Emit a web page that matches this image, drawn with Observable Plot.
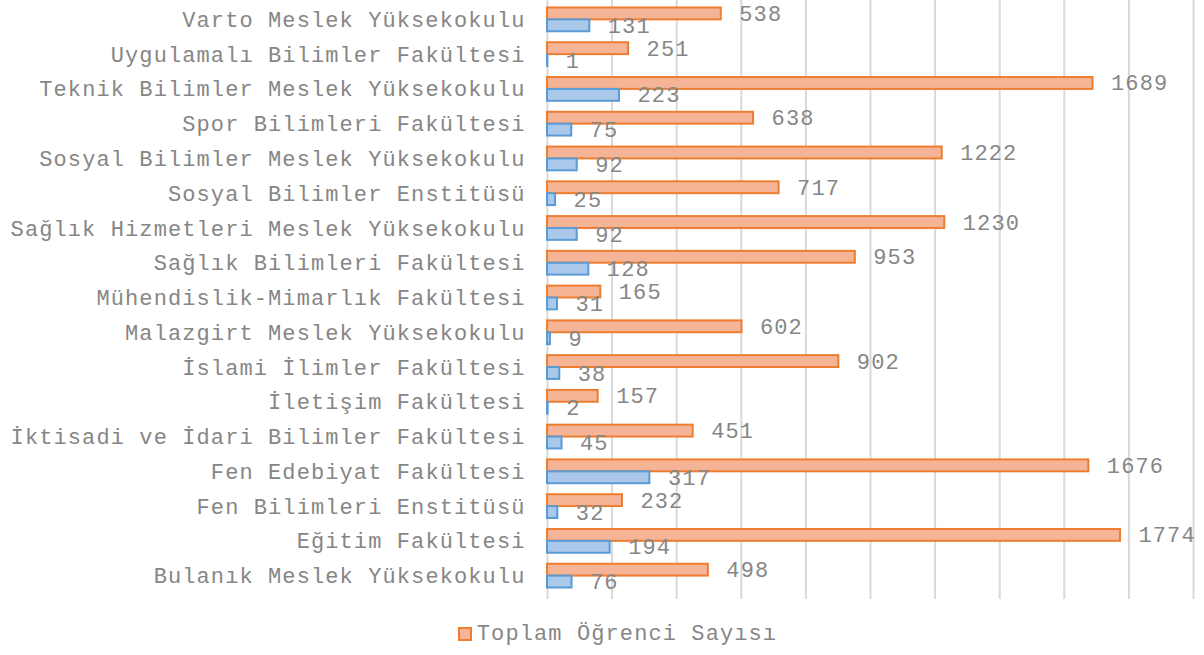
<!DOCTYPE html>
<html>
<head>
<meta charset="utf-8">
<script src="https://cdn.jsdelivr.net/npm/d3@7"></script>
<script src="https://cdn.jsdelivr.net/npm/@observablehq/plot@0.6"></script>
<style>
  html, body { margin: 0; padding: 0; background: #fff; }
  #chart svg { display: block; }
  .legend { display: flex; justify-content: center; align-items: center; height: 46px; padding-left: 31px;
    font-family: "Liberation Mono", monospace; font-size: 22px; letter-spacing: 1.1px; color: #868686; }
  .sw { width: 10px; height: 10px; background: #f5b496; border: 2px solid #ed7d31; margin-right: 5px; }
</style>
</head>
<body>
<div id="chart"></div>
<div class="legend"><span class="sw"></span><span>Toplam Öğrenci Sayısı</span></div>
<script>
const categories = [
  "Varto Meslek Yüksekokulu",
  "Uygulamalı Bilimler Fakültesi",
  "Teknik Bilimler Meslek Yüksekokulu",
  "Spor Bilimleri Fakültesi",
  "Sosyal Bilimler Meslek Yüksekokulu",
  "Sosyal Bilimler Enstitüsü",
  "Sağlık Hizmetleri Meslek Yüksekokulu",
  "Sağlık Bilimleri Fakültesi",
  "Mühendislik-Mimarlık Fakültesi",
  "Malazgirt Meslek Yüksekokulu",
  "İslami İlimler Fakültesi",
  "İletişim Fakültesi",
  "İktisadi ve İdari Bilimler Fakültesi",
  "Fen Edebiyat Fakültesi",
  "Fen Bilimleri Enstitüsü",
  "Eğitim Fakültesi",
  "Bulanık Meslek Yüksekokulu"
];
const toplam = [538, 251, 1689, 638, 1222, 717, 1230, 953, 165, 602, 902, 157, 451, 1676, 232, 1774, 498];
const diger  = [131, 1, 223, 75, 92, 25, 92, 128, 31, 9, 38, 2, 45, 317, 32, 194, 76];
const gridTicks = d3.range(0, 2001, 200);

const dataA = categories.map((c, i) => ({cat: c, v: toplam[i]}));
const dataB = categories.map((c, i) => ({cat: c, v: diger[i]}));

const font = "Liberation Mono, monospace";
const chart = Plot.plot({
  width: 1204,
  height: 611,
  marginLeft: 547,
  marginRight: 11,
  marginTop: 2,
  marginBottom: 18,
  style: {fontFamily: font, fontSize: "22px", color: "#868686", background: "#fff", overflow: "visible"},
  x: {domain: [0, 2000], axis: null},
  y: {domain: categories, padding: 0, round: false, label: null, axis: null},
  marks: [
    Plot.ruleX(gridTicks, {stroke: "#d9d9d9", strokeWidth: 2, insetTop: -2, insetBottom: -6}),
    Plot.barX(dataA, {x: "v", y: "cat", fill: "#f5b496", stroke: "#ed7d31", strokeWidth: 2, insetTop: 5.5, insetBottom: 17.4}),
    Plot.barX(dataB, {x: "v", y: "cat", fill: "#a9c8ea", stroke: "#5b9bd5", strokeWidth: 2, insetTop: 17.4, insetBottom: 5.5}),
    Plot.text(dataA, {x: "v", y: "cat", text: d => String(d.v), dx: 18, dy: -6, textAnchor: "start", fill: "#868686", fontSize: 22, fontFamily: font}),
    Plot.text(dataB, {x: "v", y: "cat", text: d => String(d.v), dx: 18, dy: 6, textAnchor: "start", fill: "#868686", fontSize: 22, fontFamily: font}),
    Plot.axisY({tickSize: 0, tickPadding: 22, fontSize: 22, fill: "#868686", label: null})
  ]
});
document.getElementById("chart").appendChild(chart);
chart.querySelectorAll("text").forEach(t => t.style.letterSpacing = "1.1px");
</script>
</body>
</html>
